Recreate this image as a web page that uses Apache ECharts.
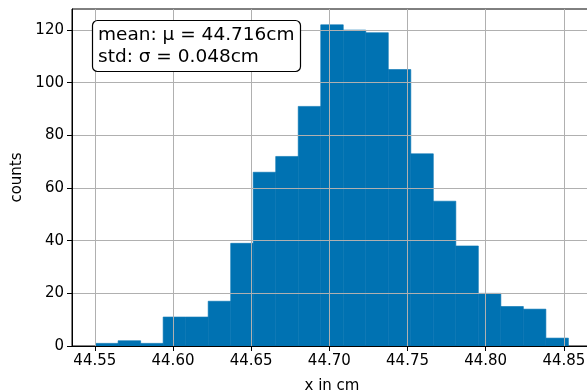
<!DOCTYPE html>
<html>
<head>
<meta charset="utf-8">
<script src="https://cdn.jsdelivr.net/npm/echarts@6/dist/echarts.min.js"></script>
<style>
  html, body { margin: 0; padding: 0; background: #fff; }
  #chart { width: 587px; height: 392px; }
</style>
</head>
<body>
<div id="chart"></div>
<script>
// histogram bin edges (cm) and counts per bin
const binEdges = [
  44.5505, 44.5649, 44.5793, 44.5937, 44.6081, 44.6225, 44.6369, 44.6513,
  44.6657, 44.6801, 44.6945, 44.7089, 44.7233, 44.7377, 44.7521, 44.7665,
  44.7809, 44.7953, 44.8097, 44.8241, 44.8385, 44.8529
]
const counts = [1, 2, 1, 11, 11, 17, 39, 66, 72, 91, 122, 120, 119, 105, 73, 55, 38, 20, 15, 14, 3]
const xTicks = [44.55, 44.60, 44.65, 44.70, 44.75, 44.80, 44.85]
const yTicks = [0, 20, 40, 60, 80, 100, 120]
const statsText = ['mean: μ = 44.716cm', 'std: σ = 0.048cm']

const font = 'DejaVu Sans'
const bins = counts.map((c, i) => [binEdges[i], binEdges[i + 1], c])

const chart = echarts.init(document.getElementById('chart'))
chart.setOption({
  animation: false,
  textStyle: { fontFamily: font },
  grid: {
    left: 72, right: -5, top: 9, bottom: 46,
    containLabel: false, outerBoundsMode: 'none',
    show: true, borderColor: '#000', borderWidth: 1
  },
  title: {
    text: statsText.join('\n'),
    left: 92,
    top: 20,
    padding: [4, 6, 4, 6],
    borderColor: '#000',
    borderWidth: 1.2,
    borderRadius: 5,
    backgroundColor: '#fff',
    textStyle: { fontFamily: font, fontSize: 18.5, fontWeight: 'normal', color: '#000', lineHeight: 22 }
  },
  xAxis: {
    type: 'value',
    min: 44.5354,
    max: 44.868,
    z: 5,
    name: 'x in cm',
    nameLocation: 'middle',
    nameGap: 33,
    nameTextStyle: { fontFamily: font, fontSize: 15, color: '#000' },
    axisLine: { onZero: false, lineStyle: { color: '#000', width: 1 } },
    axisTick: { customValues: xTicks, length: 5, lineStyle: { color: '#000' } },
    axisLabel: {
      customValues: xTicks,
      margin: 8,
      fontFamily: font, fontSize: 15, color: '#000',
      formatter: v => v.toFixed(2)
    },
    splitLine: { show: true, customValues: xTicks, lineStyle: { color: '#b0b0b0', width: 1 } }
  },
  yAxis: {
    type: 'value',
    min: 0,
    max: 128,
    z: 5,
    name: 'counts',
    nameLocation: 'middle',
    nameGap: 47,
    nameTextStyle: { fontFamily: font, fontSize: 15, color: '#000' },
    axisLine: { show: true, lineStyle: { color: '#000', width: 1 } },
    axisTick: { show: true, customValues: yTicks, length: 5, lineStyle: { color: '#000' } },
    axisLabel: { customValues: yTicks, margin: 8, fontFamily: font, fontSize: 15, color: '#000' },
    splitLine: { show: true, customValues: yTicks, lineStyle: { color: '#b0b0b0', width: 1 } }
  },
  series: [{
    type: 'custom',
    z: 2,
    data: bins,
    encode: { x: [0, 1], y: 2 },
    renderItem: (params, api) => {
      const p0 = api.coord([api.value(0), 0])
      const p1 = api.coord([api.value(1), api.value(2)])
      return {
        type: 'rect',
        shape: { x: p0[0], y: p1[1], width: p1[0] - p0[0], height: p0[1] - p1[1] },
        style: { fill: '#0072b2', stroke: '#0072b2', lineWidth: 0.6 }
      }
    }
  }]
})
</script>
</body>
</html>
